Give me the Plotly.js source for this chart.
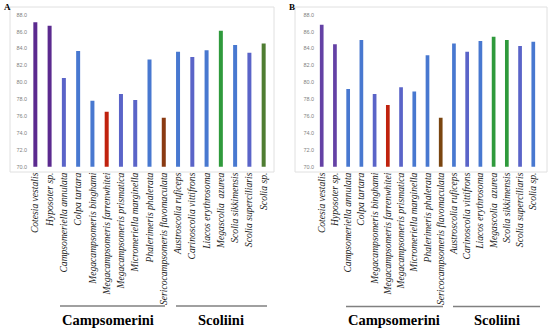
<!DOCTYPE html>
<html>
<head>
<meta charset="utf-8">
<script src="https://cdn.plot.ly/plotly-3.0.1.min.js"></script>
<style>html,body{margin:0;padding:0;background:#fff;}#chart{width:550px;height:329px;}</style>
</head>
<body>
<div id="chart"></div>
<script>
// ---- data ----
var species = ["Cotesia vestalis","Hyposoter sp.","Campsomeriella annulata","Colpa tartara","Megacampsomeris binghami","Megacampsomeris farrenwhitei","Megacampsomeris prismatica","Micromeriella marginella","Phalerimeris phalerata","Sericocampsomeris flavomaculata","Austroscolia ruficeps","Carinoscolia vittifrons","Liacos erythrosoma","Megascolia  azurea","Scolia sikkimensis","Scolia superciliaris","Scolia sp."];
var valuesA = [87.1, 86.7, 80.5, 83.7, 77.8, 76.5, 78.6, 77.9, 82.7, 75.8, 83.6, 83.0, 83.8, 86.1, 84.4, 83.5, 84.6];
var valuesB = [86.8, 84.5, 79.2, 85.0, 78.6, 77.3, 79.4, 78.9, 83.2, 75.8, 84.6, 83.6, 84.9, 85.4, 85.0, 84.3, 84.8];
var yTicks = [70, 72, 74, 76, 78, 80, 82, 84, 86, 88];
var groups = ["Campsomerini", "Scoliini"];
var panelLetters = ["A", "B"];

// ---- styles ----
var SERIF = "Liberation Serif";
var P = "#5b2a8f", BL = "#4878d0", BP = "#5a64c8", R = "#c0220e", BR = "#8a3a12", G = "#2f9a3c", OL = "#4f7d32";
var P2 = "#6441a5", BR2 = "#7a4510";
var colorsA = [P,P,BP,BL,BL,R,BP,BP,BL,BR,BL,BP,BL,G,BL,BP,OL];
var colorsB = [P2,P2,BL,BL,BP,R,BP,BL,BL,BR2,BL,BP,BL,G,G,BP,BL];

function px(x){return x/550;}
function py(y){return 1 - y/329;}

var tickText = species.map(function(s){return "<i>"+s+"</i>";});

var traces = [
  {type:"bar", x:species, y:valuesA, marker:{color:colorsA}, xaxis:"x", yaxis:"y", hoverinfo:"x+y"},
  {type:"bar", x:species, y:valuesB, marker:{color:colorsB}, xaxis:"x2", yaxis:"y2", hoverinfo:"x+y"}
];

var xCommon = {
  type:"category", tickangle:-90, showgrid:false, zeroline:false, showline:false, ticks:"",
  tickmode:"array", tickvals:species, ticktext:tickText, ticklabelstandoff:3,
  tickfont:{family:SERIF, size:9.6, color:"#222"}, fixedrange:true
};
var yCommon = {
  range:[70,88], tickvals:yTicks, tickformat:".1f", showgrid:false, zeroline:false, showline:false,
  ticks:"", tickfont:{family:"Liberation Sans", size:5.5, color:"#7f7f7f"}, fixedrange:true
};

function ann(text, x, y, size, anchor){
  return {text:"<b>"+text+"</b>", xref:"paper", yref:"paper", x:px(x), y:py(y), xanchor:anchor, yanchor:"middle",
          showarrow:false, font:{family:SERIF, size:size, color:"#000"}};
}

var layout = {
  width:550, height:329, margin:{l:0,r:0,t:0,b:0},
  paper_bgcolor:"#fff", plot_bgcolor:"rgba(0,0,0,0)",
  showlegend:false, bargap:0.72,
  xaxis:Object.assign({}, xCommon, {domain:[px(28.2), px(270.8)], anchor:"y"}),
  yaxis:Object.assign({}, yCommon, {domain:[py(166.7), py(14.7)], anchor:"x"}),
  xaxis2:Object.assign({}, xCommon, {domain:[px(315.1), px(539.9)], anchor:"y2"}),
  yaxis2:Object.assign({}, yCommon, {domain:[py(166.7), py(14.7)], anchor:"x2"}),
  shapes:[
    {type:"rect", xref:"paper", yref:"paper", x0:px(10), x1:px(274), y0:py(172), y1:py(7), line:{color:"#e0e0e0", width:1}},
    {type:"rect", xref:"paper", yref:"paper", x0:px(295), x1:px(547), y0:py(172), y1:py(7), line:{color:"#e0e0e0", width:1}},
    {type:"line", xref:"paper", yref:"paper", x0:px(60), x1:px(165), y0:py(306), y1:py(306), line:{color:"#808080", width:1.5}},
    {type:"line", xref:"paper", yref:"paper", x0:px(176), x1:px(267), y0:py(306), y1:py(306), line:{color:"#808080", width:1.5}},
    {type:"line", xref:"paper", yref:"paper", x0:px(346), x1:px(443), y0:py(306.5), y1:py(306.5), line:{color:"#808080", width:1.5}},
    {type:"line", xref:"paper", yref:"paper", x0:px(453), x1:px(540), y0:py(306.5), y1:py(306.5), line:{color:"#808080", width:1.5}}
  ],
  annotations:[
    ann(panelLetters[0], 7, 7, 9, "center"),
    ann(panelLetters[1], 292, 7, 9, "center"),
    ann(groups[0], 108, 320, 14.5, "center"),
    ann(groups[1], 221, 320, 14.5, "center"),
    ann(groups[0], 394, 320, 14.5, "center"),
    ann(groups[1], 497, 320, 14.5, "center")
  ]
};

Plotly.newPlot("chart", traces, layout, {displayModeBar:false, staticPlot:true});
</script>
</body>
</html>
